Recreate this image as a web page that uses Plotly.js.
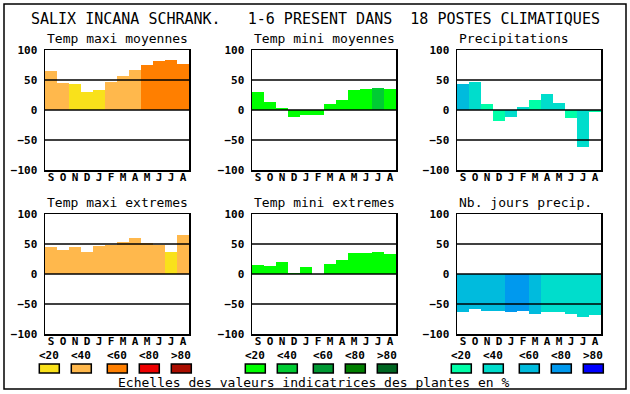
<!DOCTYPE html>
<html><head><meta charset="utf-8">
<script src="https://cdn.plot.ly/plotly-3.0.1.min.js"></script>
<style>html,body{margin:0;padding:0;background:#fff}</style>
</head><body><div id="c" style="width:630px;height:394px"></div>
<script>
// ---- data ----
const months = ["S","O","N","D","J","F","M","A","M","J","J","A"];
const tempMaxiMoy      = [65, 45, 43, 30, 33, 47, 57, 67, 75, 82, 83, 77];
const tempMaxiMoyCls   = [1, 1, 0, 0, 0, 1, 1, 1, 2, 2, 2, 2];
const tempMiniMoy      = [30, 13, 3, -11, -8, -8, 10, 17, 33, 35, 37, 35];
const tempMiniMoyCls   = [0, 0, 0, 0, 0, 0, 0, 0, 0, 0, 1, 0];
const precip           = [43, 47, 10, -18, -11, 5, 17, 27, 12, -13, -61, -4];
const precipCls        = [2, 1, 0, 0, 1, 1, 0, 1, 1, 0, 1, 0];
const tempMaxiExt      = [45, 40, 45, 37, 47, 48, 53, 60, 52, 48, 37, 65];
const tempMaxiExtCls   = [1, 1, 1, 1, 1, 1, 1, 1, 1, 1, 0, 1];
const tempMiniExt      = [15, 13, 20, 2, 12, 0, 17, 23, 35, 35, 37, 33];
const tempMiniExtCls   = [0, 0, 0, 0, 0, 0, 0, 0, 0, 0, 0, 0];
const nbJours          = [-63, -58, -61, -61, -64, -61, -66, -64, -63, -66, -71, -68];
const nbJoursCls       = [2, 2, 2, 2, 3, 3, 2, 1, 1, 1, 1, 1];

const tempPalette  = ["#f9e11b", "#ffb84c", "#ff7f00", "#ee0000", "#aa0d00"];
const greenPalette = ["#00ff00", "#00cc33", "#009933", "#007f00", "#006622"];
const bluePalette  = ["#00ffa8", "#00ddcc", "#00bbdd", "#0099ee", "#0000ff"];
const scaleLabels  = ["<20", "<40", "<60", "<80", ">80"];
const yTicks = [-100, -50, 0, 50, 100];

const mainTitle = "SALIX INCANA SCHRANK.   1-6 PRESENT DANS  18 POSTES CLIMATIQUES";
const footer = "Echelles des valeurs indicatrices des plantes en %";

// ---- layout helpers ----
const W = 630, H = 394;
const MONO = "DejaVu Sans Mono";
const px = v => v / W;
const py = v => 1 - v / H;

const panels = [
  {title: "Temp maxi moyennes", vals: tempMaxiMoy, cls: tempMaxiMoyCls, pal: tempPalette, l: 45, t: 50},
  {title: "Temp mini moyennes", vals: tempMiniMoy, cls: tempMiniMoyCls, pal: greenPalette, l: 252, t: 50},
  {title: "Precipitations", vals: precip, cls: precipCls, pal: bluePalette, l: 457, t: 50},
  {title: "Temp maxi extremes", vals: tempMaxiExt, cls: tempMaxiExtCls, pal: tempPalette, l: 45, t: 214},
  {title: "Temp mini extremes", vals: tempMiniExt, cls: tempMiniExtCls, pal: greenPalette, l: 252, t: 214},
  {title: "Nb. jours precip.", vals: nbJours, cls: nbJoursCls, pal: bluePalette, l: 457, t: 214}
];
const PW = 144, PH = 120;

const data = [];
const layout = {
  width: W, height: H,
  margin: {l: 0, r: 0, t: 0, b: 0},
  paper_bgcolor: "#fff", plot_bgcolor: "#fff",
  showlegend: false, bargap: 0,
  shapes: [], annotations: []
};
const idx = months.map((m, i) => i);

panels.forEach((p, k) => {
  const n = k === 0 ? "" : String(k + 1);
  data.push({
    type: "bar", x: idx, y: p.vals, width: 1,
    marker: {color: p.cls.map(c => p.pal[c]), line: {width: 0}},
    xaxis: "x" + n, yaxis: "y" + n, hoverinfo: "skip"
  });
  layout["xaxis" + n] = {
    domain: [px(p.l), px(p.l + PW)], anchor: "y" + n,
    range: [-0.5, 11.5], tickvals: idx, ticktext: months,
    showgrid: false, zeroline: false, ticks: "",
    showline: true, mirror: true, linecolor: "#000", linewidth: 1.5,
    tickfont: {family: MONO, size: 11, color: "#000", weight: "bold"},
    ticklabelstandoff: -4, fixedrange: true, layer: "above traces"
  };
  layout["yaxis" + n] = {
    domain: [py(p.t + PH), py(p.t)], anchor: "x" + n,
    range: [-100, 100], tickvals: yTicks,
    showgrid: false, zeroline: false, ticks: "",
    showline: true, mirror: true, linecolor: "#000", linewidth: 1.5,
    tickfont: {family: MONO, size: 11, color: "#000", weight: "bold"},
    ticklabelstandoff: 4, fixedrange: true, layer: "above traces"
  };
  [-50, 0, 50].forEach(v => layout.shapes.push({
    type: "line", xref: "x" + n + " domain", yref: "y" + n,
    x0: 0, x1: 1, y0: v, y1: v, layer: "above",
    line: {color: "#000", width: 1.5}
  }));
  layout.annotations.push({
    text: p.title, xref: "paper", yref: "paper",
    x: px(p.l), y: py(p.t - 2), xanchor: "left", yanchor: "bottom",
    showarrow: false, font: {family: MONO, size: 13, color: "#000"}
  });
});

// outer frame
layout.shapes.push({type: "rect", xref: "paper", yref: "paper",
  x0: px(4), x1: px(626), y0: py(389), y1: py(4),
  line: {color: "#000", width: 1.5}, layer: "below"});

// main title
layout.annotations.push({
  text: mainTitle.replace(/ /g, "\u00a0"), xref: "paper", yref: "paper",
  x: px(315), y: py(18.5), xanchor: "center", yanchor: "middle",
  showarrow: false, font: {family: MONO, size: 15, color: "#000"}
});

// colour scales
const groupStarts = [39.3, 245.3, 451.3];
const boxOffsets = [0, 32, 68, 100, 132];
const palettes = [tempPalette, greenPalette, bluePalette];
groupStarts.forEach((g, gi) => {
  boxOffsets.forEach((o, i) => {
    const x0 = g + o;
    layout.shapes.push({type: "rect", xref: "paper", yref: "paper",
      x0: px(x0), x1: px(x0 + 20), y0: py(373), y1: py(364),
      fillcolor: palettes[gi][i], line: {color: "#000", width: 1.5}, layer: "above"});
    layout.annotations.push({
      text: scaleLabels[i], xref: "paper", yref: "paper",
      x: px(x0 + 10), y: py(355), xanchor: "center", yanchor: "middle",
      showarrow: false, font: {family: MONO, size: 11, color: "#000", weight: "bold"}
    });
  });
});

layout.annotations.push({
  text: footer, xref: "paper", yref: "paper",
  x: px(314), y: py(382), xanchor: "center", yanchor: "middle",
  showarrow: false, font: {family: MONO, size: 13, color: "#000"}
});

Plotly.newPlot("c", data, layout, {staticPlot: true, displayModeBar: false});
</script>
</body></html>
